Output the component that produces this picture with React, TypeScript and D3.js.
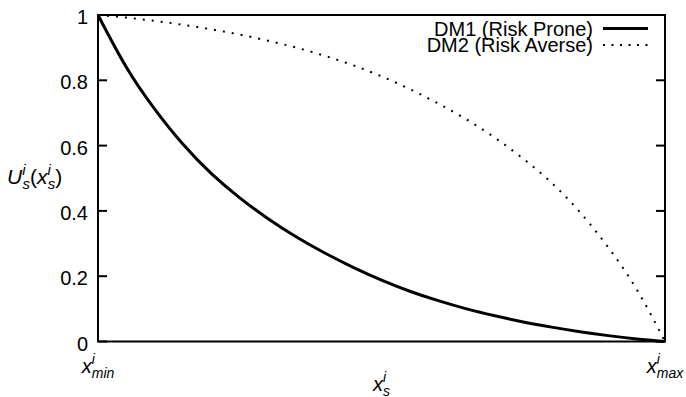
import React, { useEffect, useRef } from 'react';
import * as d3 from 'd3';

// normalised position between x_min and x_max
const xs = [0, 0.05, 0.1, 0.15, 0.2, 0.25, 0.3, 0.35, 0.4, 0.45, 0.5, 0.55, 0.6, 0.65, 0.7, 0.75, 0.8, 0.85, 0.9, 0.95, 1];
const dm1 = [1, 0.84, 0.712, 0.604, 0.514, 0.44, 0.376, 0.32, 0.271, 0.227, 0.188, 0.154, 0.125, 0.1, 0.079, 0.06, 0.044, 0.03, 0.018, 0.008, 0];
const dm2 = [1, 0.992, 0.982, 0.97, 0.956, 0.94, 0.921, 0.9, 0.875, 0.846, 0.812, 0.773, 0.729, 0.68, 0.624, 0.56, 0.486, 0.396, 0.288, 0.16, 0];
const yTicks = [0, 0.2, 0.4, 0.6, 0.8, 1];
const yTickLabels = ['0', '0.2', '0.4', '0.6', '0.8', '1'];
const xTicks = [0, 1];
const xTickSubs = ['min', 'max'];
const seriesNames = ['DM1 (Risk Prone)', 'DM2 (Risk Averse)'];

const FONT = '"Liberation Sans", Arial, Helvetica, sans-serif';

const App = () => {
  const ref = useRef<SVGSVGElement | null>(null);

  useEffect(() => {
    if (!ref.current) return;
    const svg = d3.select(ref.current);
    svg.selectAll('*').remove();

    const left = 98, right = 665, top = 15, bottom = 341.5;
    const x = d3.scaleLinear().domain([0, 1]).range([left, right]);
    const y = d3.scaleLinear().domain([0, 1]).range([bottom, top]);

    const g = svg.append('g').attr('font-family', FONT).attr('font-size', 20);

    // y ticks (left and right, pointing inward)
    yTicks.forEach((v, i) => {
      g.append('line').attr('x1', left).attr('x2', left + 9)
        .attr('y1', y(v)).attr('y2', y(v)).attr('stroke', '#000').attr('stroke-width', 2);
      g.append('line').attr('x1', right).attr('x2', right - 9)
        .attr('y1', y(v)).attr('y2', y(v)).attr('stroke', '#000').attr('stroke-width', 2);
      g.append('text').attr('x', 88).attr('y', y(v) + 9)
        .attr('text-anchor', 'end').text(yTickLabels[i]);
    });

    // x tick labels  x^i_min / x^i_max
    xTicks.forEach((v, i) => {
      const t = g.append('text').attr('x', x(v)).attr('y', 373).attr('text-anchor', 'middle');
      t.append('tspan').attr('font-style', 'italic').text('x');
      t.append('tspan').attr('font-style', 'italic').attr('font-size', 14).attr('dy', -9).text('i');
      t.append('tspan').attr('font-style', 'italic').attr('font-size', 14).attr('dx', -3).attr('dy', 14).text(xTickSubs[i]);
    });

    // axis titles
    const xt = g.append('text').attr('x', (left + right) / 2).attr('y', 391).attr('text-anchor', 'middle');
    xt.append('tspan').attr('font-style', 'italic').text('x');
    xt.append('tspan').attr('font-style', 'italic').attr('font-size', 14).attr('dy', -9).text('i');
    xt.append('tspan').attr('font-style', 'italic').attr('font-size', 14).attr('dx', -3).attr('dy', 14).text('s');

    const yt = g.append('text').attr('x', 7).attr('y', 184).attr('font-size', 21);
    yt.append('tspan').attr('font-style', 'italic').text('U');
    yt.append('tspan').attr('font-style', 'italic').attr('font-size', 15).attr('dy', -9).text('i');
    yt.append('tspan').attr('font-style', 'italic').attr('font-size', 15).attr('dx', -3).attr('dy', 14).text('s');
    yt.append('tspan').attr('dy', -5).text('(');
    yt.append('tspan').attr('font-style', 'italic').text('x');
    yt.append('tspan').attr('font-style', 'italic').attr('font-size', 15).attr('dy', -9).text('i');
    yt.append('tspan').attr('font-style', 'italic').attr('font-size', 15).attr('dx', -3).attr('dy', 14).text('s');
    yt.append('tspan').attr('dy', -5).text(')');

    const line = d3.line<number>()
      .x((_, i) => x(xs[i]))
      .y((d) => y(d))
      .curve(d3.curveNatural);

    g.append('path').datum(dm1).attr('fill', 'none').attr('stroke', '#000')
      .attr('stroke-width', 3).attr('d', line);
    g.append('path').datum(dm2).attr('fill', 'none').attr('stroke', '#000')
      .attr('stroke-width', 2).attr('stroke-dasharray', '2,7').attr('d', line);

    // legend
    const rows = [35.5, 52];
    seriesNames.forEach((name, i) => {
      g.append('text').attr('x', 593).attr('y', rows[i])
        .attr('text-anchor', 'end').text(name);
      g.append('line').attr('x1', 603).attr('x2', 648)
        .attr('y1', rows[i] - 7).attr('y2', rows[i] - 7)
        .attr('stroke', '#000')
        .attr('stroke-width', i === 0 ? 3 : 2)
        .attr('stroke-dasharray', i === 0 ? null : '2,6.5');
    });

    // frame
    g.append('rect').attr('x', left).attr('y', top)
      .attr('width', right - left).attr('height', bottom - top)
      .attr('fill', 'none').attr('stroke', '#000').attr('stroke-width', 2);
  }, []);

  return (
    <svg ref={ref} width={686} height={397}
      style={{ position: 'absolute', left: 0, top: 0, background: '#fff' }} />
  );
};

export default App;
